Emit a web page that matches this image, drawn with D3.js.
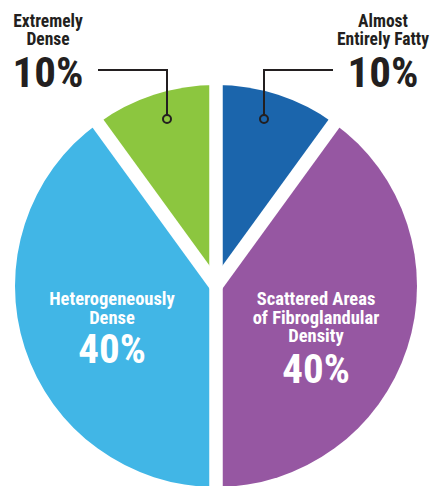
<!DOCTYPE html>
<html>
<head>
<meta charset="utf-8">
<script src="https://cdn.jsdelivr.net/npm/d3@7"></script>
<style>
html,body{margin:0;padding:0;background:#fff;}
svg{display:block;}
text{font-family:"Roboto Condensed",Roboto,sans-serif;font-weight:bold;}
</style>
</head>
<body>
<svg id="chart" width="435" height="486"></svg>
<script>
// Data
const categories = ["Almost Entirely Fatty", "Scattered Areas of Fibroglandular Density", "Heterogeneously Dense", "Extremely Dense"];
const values = [10, 40, 40, 10];
const labelLines = [["Almost", "Entirely Fatty"], ["Scattered Areas", "of Fibroglandular", "Density"], ["Heterogeneously", "Dense"], ["Extremely", "Dense"]];
const colors = ["#1b65ac", "#9657a2", "#41b6e6", "#8cc63f"];

const svg = d3.select("#chart");
const cx = 216, cy = 286, R = 201, gap = 13.5;

const pie = d3.pie().sort(null).value(d => d)(values);
const arc = d3.arc().innerRadius(0).outerRadius(R);

const g = svg.append("g").attr("transform", `translate(${cx},${cy})`);
g.selectAll("path.slice").data(pie).join("path")
  .attr("class", "slice")
  .attr("d", arc)
  .attr("fill", (d, i) => colors[i]);

// white separating gaps along slice boundaries
const boundaries = pie.map(d => d.startAngle);
g.selectAll("line.gap").data(boundaries).join("line")
  .attr("class", "gap")
  .attr("x1", 0).attr("y1", 0)
  .attr("x2", a => (R + 20) * Math.sin(a))
  .attr("y2", a => -(R + 20) * Math.cos(a))
  .attr("stroke", "#fff")
  .attr("stroke-width", gap);

// inside labels for big slices (single text block each)
const inside = [
  null,
  {x: 316, y: 305, pctY: 383},
  {x: 112, y: 305, pctY: 363},
  null
];
inside.forEach((p, i) => {
  if (!p) return;
  const t = svg.append("text").attr("x", p.x).attr("y", p.y)
    .attr("text-anchor", "middle").attr("fill", "#fff");
  labelLines[i].forEach((ln, k) => {
    t.append("tspan").attr("x", p.x).attr("y", p.y + k * 18.5)
      .attr("font-size", 18.5).text(ln);
  });
  t.append("tspan").attr("x", p.x).attr("y", p.pctY)
    .attr("font-size", 41).text(values[i] + "%");
});

// outside callout labels for small slices
const outside = [
  {x: 383, lineStart: 333, elbowX: 264, dotY: 119},
  null, null,
  {x: 48, lineStart: 98, elbowX: 167, dotY: 119}
];
outside.forEach((p, i) => {
  if (!p) return;
  const t = svg.append("text").attr("x", p.x).attr("y", 27)
    .attr("text-anchor", "middle").attr("fill", "#231f20");
  labelLines[i].forEach((ln, k) => {
    t.append("tspan").attr("x", p.x).attr("y", 27 + k * 18)
      .attr("font-size", 17.5).text(ln);
  });
  t.append("tspan").attr("x", p.x).attr("y", 87)
    .attr("font-size", 43).text(values[i] + "%");
  svg.append("path")
    .attr("d", `M${p.lineStart},70 H${p.elbowX} V${p.dotY - 4}`)
    .attr("fill", "none").attr("stroke", "#231f20").attr("stroke-width", 2);
  svg.append("circle").attr("cx", p.elbowX).attr("cy", p.dotY).attr("r", 4)
    .attr("fill", "none").attr("stroke", "#231f20").attr("stroke-width", 2);
});
</script>
</body>
</html>
